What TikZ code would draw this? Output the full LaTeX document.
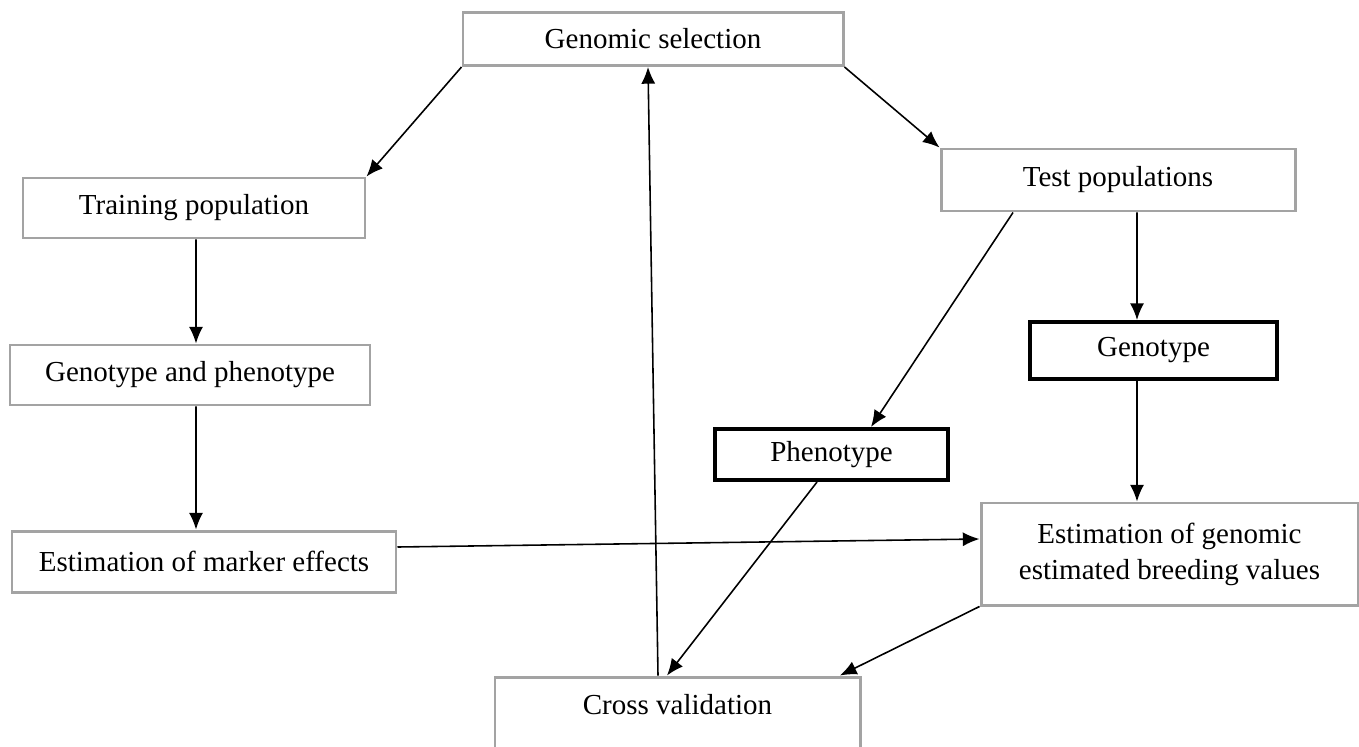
\documentclass[tikz,border=0pt]{standalone}
\usepackage{fontspec}
\setmainfont{Liberation Serif}
\usepackage{xcolor}
\usepackage{tikz}
\usetikzlibrary{arrows.meta,positioning}
\definecolor{gsgray}{HTML}{A3A3A3}

\begin{document}
\begin{tikzpicture}[
    x=0.02cm, y=-0.02cm,
    font=\fontsize{16.5}{20.5}\selectfont,
    box/.style={draw=gsgray, line width=1.7pt, fill=white, inner sep=0pt, align=center},
    keybox/.style={draw=black, line width=2.3pt, fill=white, inner sep=0pt, align=center},
    arrow/.style={-{Latex[length=9.5pt, width=8pt]}, line width=0.9pt, draw=black}
  ]
    \useasboundingbox (0,0) rectangle (1359,747);
    \node[box, minimum width=380*0.02cm, minimum height=53*0.02cm] (gs) at (653,39) {Genomic selection};
    \node[box, minimum width=342*0.02cm, minimum height=60*0.02cm] (train) at (194,208) {Training population};
    \node[box, minimum width=354*0.02cm, minimum height=62*0.02cm] (test) at (1118,180) {Test populations};
    \node[box, minimum width=360*0.02cm, minimum height=60*0.02cm] (genopheno) at (190,375) {Genotype and phenotype};
    \node[keybox, minimum width=247*0.02cm, minimum height=57*0.02cm] (geno) at (1153.5,350.5) {Genotype};
    \node[keybox, minimum width=233*0.02cm, minimum height=51*0.02cm] (pheno) at (831.5,454.5) {Phenotype};
    \node[box, minimum width=384*0.02cm, minimum height=61*0.02cm] (marker) at (204,561.5) {Estimation of marker effects};
    \node[box, minimum width=377*0.02cm, minimum height=102*0.02cm] (gebv) at (1169.5,554) {Estimation of genomic\\estimated breeding values};
    \node[box, minimum width=365*0.02cm, minimum height=72*0.02cm, text depth=10pt] (cv) at (677.5,713) {Cross validation};
    \path[arrow] (gs.south west) -- (train.north east);
    \path[arrow] (gs.south east) -- (test.north west);
    \path[arrow] ([xshift=0.04cm]train.south) -- ([xshift=0.12cm]genopheno.north);
    \path[arrow] ([xshift=0.12cm]genopheno.south) -- ([xshift=-0.16cm]marker.north);
    \path[arrow] ([xshift=0.38cm]test.south) -- ([xshift=-0.33cm]geno.north);
    \path[arrow] ([xshift=-2.1cm]test.south) -- ([xshift=0.79cm]pheno.north);
    \path[arrow] ([xshift=-0.33cm]geno.south) -- ([xshift=-0.65cm]gebv.north);
    \path[arrow] ([yshift=0.29cm]marker.east) -- ([yshift=0.3cm]gebv.west);
    \path[arrow] ([xshift=-0.29cm]pheno.south) -- ([xshift=-0.21cm]cv.north);
    \path[arrow] (gebv.south west) -- ([xshift=3.25cm]cv.north);
    \path[arrow] ([xshift=-0.39cm]cv.north) -- ([xshift=-0.1cm]gs.south);
  \end{tikzpicture}
\end{document}
